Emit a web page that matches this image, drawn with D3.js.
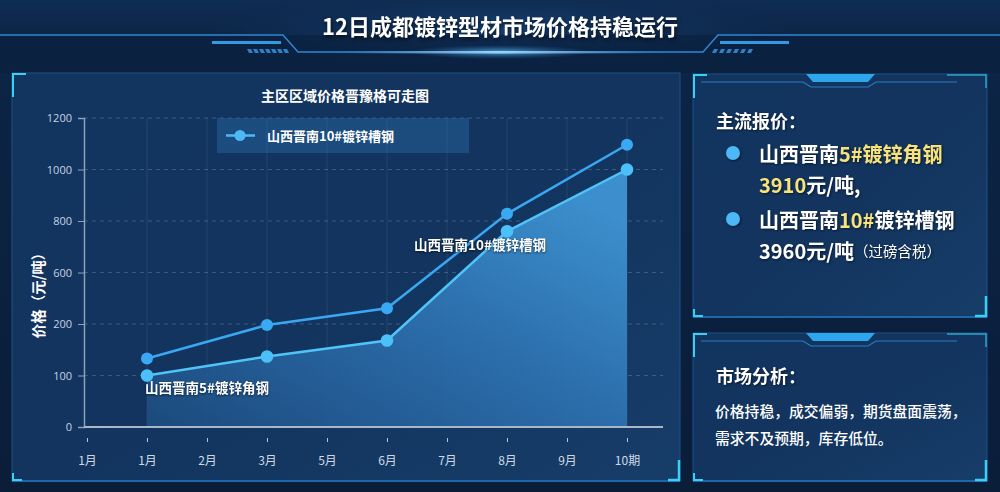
<!DOCTYPE html>
<html><head><meta charset="utf-8">
<script src="https://cdn.jsdelivr.net/npm/d3@7/dist/d3.min.js"></script>
<style>
html,body{margin:0;padding:0;background:#0a1d3a;}
svg{display:block;font-family:"Noto Sans CJK SC","Noto Sans",sans-serif;}
</style></head>
<body><svg id="c" width="1000" height="492"></svg>
<script>
// ---- data ----
const title = "12日成都镀锌型材市场价格持稳运行";
const chartTitle = "主区区域价格晋豫格可走图";
const categories = ["1月","1月","2月","3月","5月","6月","7月","8月","9月","10期"];
const yTickValues = [0,100,200,600,800,1000,1200];
const pointIndex = [1,3,5,7,9];
const series10Name = "山西晋南10#镀锌槽钢";
const series10 = [133,198,322,828,1096];
const series5Name = "山西晋南5#镀锌角钢";
const series5 = [100,137,168,760,1000];
const yAxisLabel = "价格（元/吨）";
const priceTitle = "主流报价：";
const analysisTitle = "市场分析：";
const analysisLines = ["价格持稳，成交偏弱，期货盘面震荡，","需求不及预期，库存低位。"];

const svg = d3.select("#c");
const defs = svg.append("defs");

// background gradients
const bg = defs.append("linearGradient").attr("id","bg").attr("x1",0).attr("y1",0).attr("x2",0).attr("y2",1);
bg.append("stop").attr("offset",0).attr("stop-color","#0f2c52");
bg.append("stop").attr("offset",0.08).attr("stop-color","#0c2546");
bg.append("stop").attr("offset",1).attr("stop-color","#0a1d39");
svg.append("rect").attr("width",1000).attr("height",492).attr("fill","url(#bg)");

const hg = defs.append("radialGradient").attr("id","hglow").attr("cx",0.5).attr("cy",0.5).attr("r",0.5);
hg.append("stop").attr("offset",0).attr("stop-color","#1d5390").attr("stop-opacity",0.8);
hg.append("stop").attr("offset",1).attr("stop-color","#0c2546").attr("stop-opacity",0);
svg.append("ellipse").attr("cx",500).attr("cy",30).attr("rx",330).attr("ry",40).attr("fill","url(#hglow)");

// header decoration
const hdr = svg.append("g");
hdr.append("rect").attr("x",0).attr("y",35).attr("width",1000).attr("height",38).attr("fill","#0a1f3e").attr("opacity",0.6);
hdr.append("path").attr("d","M0,35H283L298,52H703L718,35H1000").attr("fill","none").attr("stroke","#2f86d0").attr("stroke-width",1.5);
const cg = defs.append("linearGradient").attr("id","cg").attr("x1",0).attr("x2",1);
cg.append("stop").attr("offset",0).attr("stop-color","#2f86d0").attr("stop-opacity",0);
cg.append("stop").attr("offset",0.5).attr("stop-color","#e8f6ff");
cg.append("stop").attr("offset",1).attr("stop-color","#2f86d0").attr("stop-opacity",0);
hdr.append("rect").attr("x",330).attr("y",51).attr("width",340).attr("height",2.5).attr("fill","url(#cg)");
const glow = defs.append("radialGradient").attr("id","glow");
glow.append("stop").attr("offset",0).attr("stop-color","#6cc8ff").attr("stop-opacity",0.7);
glow.append("stop").attr("offset",1).attr("stop-color","#2f86d0").attr("stop-opacity",0);
hdr.append("ellipse").attr("cx",500).attr("cy",52).attr("rx",90).attr("ry",7).attr("fill","url(#glow)");
hdr.append("rect").attr("x",212).attr("y",41).attr("width",69).attr("height",3).attr("fill","#3598e2");
hdr.append("rect").attr("x",720).attr("y",41).attr("width",69).attr("height",3).attr("fill","#3598e2");
for(let i=0;i<7;i++){const x=247+i*6;hdr.append("path").attr("d",`M${x},49h4l2,4h-4z`).attr("fill","#2f80c8");}
for(let i=0;i<6;i++){const x=712+i*7;hdr.append("path").attr("d",`M${x+2},49h4l-2,4h-4z`).attr("fill","#2f80c8");}
svg.append("text").attr("x",500).attr("y",25).attr("text-anchor","middle").attr("dominant-baseline","central")
  .attr("fill","#fff").attr("font-size",22).attr("font-weight","bold")
  .style("filter","drop-shadow(1px 2px 2px rgba(0,0,0,0.7))").text(title);

// panels
const pg = defs.append("linearGradient").attr("id","pg").attr("x1",0).attr("y1",0).attr("x2",1).attr("y2",1);
pg.append("stop").attr("offset",0).attr("stop-color","#123560");
pg.append("stop").attr("offset",0.5).attr("stop-color","#12345e");
pg.append("stop").attr("offset",1).attr("stop-color","#163d68");
function panel(x,y,w,h,tab,trCorner){
  const g=svg.append("g");
  g.append("rect").attr("x",x).attr("y",y).attr("width",w).attr("height",h).attr("fill","url(#pg)").attr("stroke","#1d5287").attr("stroke-width",1);
  g.append("line").attr("x1",x).attr("x2",x+w).attr("y1",y+h).attr("y2",y+h).attr("stroke","#1f67a8").attr("stroke-width",2);
  const c="#3ad0f5";
  g.append("path").attr("d",`M${x+1},${y+24}V${y+1}H${x+14}`).attr("fill","none").attr("stroke",c).attr("stroke-width",2);
  if(trCorner) g.append("path").attr("d",`M${x+w-1},${y+14}V${y+1}H${x+w-40}`).attr("fill","none").attr("stroke",c).attr("stroke-width",1.5).attr("opacity",0.7);
  g.append("path").attr("d",`M${x+w-1},${y+h-21}V${y+h-1}H${x+w-12}`).attr("fill","none").attr("stroke",c).attr("stroke-width",2.5);
  g.append("path").attr("d",`M${x+1},${y+h-8}V${y+h-1}H${x+10}`).attr("fill","none").attr("stroke",c).attr("stroke-width",2);
  if(tab){
    const cx=x+w/2;
    g.append("path").attr("d",`M${x+8},${y+8}H${cx-37}L${cx-29},${y+13}H${cx+28}L${cx+36},${y+8}H${x+w-30}`).attr("fill","none").attr("stroke","#2a7cc0").attr("stroke-width",1.2);
    g.append("path").attr("d",`M${cx-34},${y}H${cx+35}L${cx+28},${y+8}H${cx-27}Z`).attr("fill","#2ea6ee");
  }
}
panel(12,73,668,408,false,false);
panel(693,74,294,243,true,true);
panel(693,333,294,148,true,true);

// ---- chart ----
const x0=87, x1=627, xAxisEnd=663, yTop=118, yBottom=427, axisX=84;
const x = d3.scalePoint().domain(d3.range(categories.length)).range([x0,x1]);
const step=(yBottom-yTop)/(yTickValues.length-1);
const y = d3.scaleLinear().domain(yTickValues).range(yTickValues.map((d,i)=>yBottom-i*step));
const plot = svg.append("g");

// grid
plot.append("g").selectAll("line").data(yTickValues.slice(1)).join("line")
  .attr("x1",axisX).attr("x2",xAxisEnd).attr("y1",d=>y(d)).attr("y2",d=>y(d))
  .attr("stroke","#ffffff").attr("stroke-opacity",0.18).attr("stroke-dasharray","4,4");
plot.append("g").selectAll("line").data(d3.range(1,categories.length)).join("line")
  .attr("x1",d=>x(d)).attr("x2",d=>x(d)).attr("y1",yTop).attr("y2",yBottom)
  .attr("stroke","#ffffff").attr("stroke-opacity",0.08);

// area
const ag = defs.append("linearGradient").attr("id","ag").attr("x1",0).attr("y1",1).attr("x2",0.9).attr("y2",0.1);
ag.append("stop").attr("offset",0).attr("stop-color","#1c4b7e");
ag.append("stop").attr("offset",0.55).attr("stop-color","#2c6fae");
ag.append("stop").attr("offset",1).attr("stop-color","#3e94d2");
const pts5 = series5.map((v,i)=>({i:pointIndex[i],v}));
const pts10 = series10.map((v,i)=>({i:pointIndex[i],v}));
plot.append("path").datum(pts5)
  .attr("d",d3.area().x(d=>x(d.i)).y0(y(0)).y1(d=>y(d.v)))
  .attr("fill","url(#ag)").attr("opacity",0.95);

// y axis
const yAxis = d3.axisLeft(y).tickValues(yTickValues).tickFormat(d=>String(d)).tickSize(6).tickPadding(6);
const ya = plot.append("g").attr("transform",`translate(${axisX},0)`).call(yAxis);
ya.select(".domain").attr("stroke","#8ea1bb").attr("stroke-width",1.5);
ya.selectAll(".tick line").attr("stroke","#8ea1bb");
ya.selectAll("text").attr("fill","#c6d2e2").attr("font-size",11).attr("font-family","'Open Sans','Noto Sans',sans-serif");

// x axis
const xAxis = d3.axisBottom(x).tickFormat(i=>categories[i]).tickSize(4).tickPadding(14);
const xa = plot.append("g").attr("transform",`translate(0,${yBottom+11})`).call(xAxis);
xa.select(".domain").remove();
xa.selectAll(".tick line").attr("stroke","#b8c6d6");
xa.selectAll("text").attr("fill","#d0dae6").attr("font-size",12).attr("font-family","'Noto Sans CJK SC',sans-serif");
plot.append("line").attr("x1",axisX).attr("x2",xAxisEnd).attr("y1",yBottom).attr("y2",yBottom).attr("stroke","#a9b7c9").attr("stroke-width",2);

// lines
const line = d3.line().x(d=>x(d.i)).y(d=>y(d.v));
plot.append("path").datum(pts10).attr("d",line).attr("fill","none").attr("stroke","#3aa7f2").attr("stroke-width",2.5);
plot.append("path").datum(pts5).attr("d",line).attr("fill","none").attr("stroke","#4fc4f8").attr("stroke-width",2.5);
plot.append("g").selectAll("circle").data(pts10).join("circle").attr("cx",d=>x(d.i)).attr("cy",d=>y(d.v)).attr("r",6).attr("fill","#3aa9f3");
plot.append("g").selectAll("circle").data(pts5).join("circle").attr("cx",d=>x(d.i)).attr("cy",d=>y(d.v)).attr("r",6.3).attr("fill","#4cc0f8");

// labels
const lab = {fill:"#fff","font-size":13.5,"font-weight":"bold"};
function applyAttrs(sel,o){for(const k in o) sel.attr(k,o[k]); return sel;}
applyAttrs(plot.append("text"),lab).attr("x",x(pts5[0].i)-2).attr("y",y(pts5[0].v)+11).attr("dominant-baseline","central")
  .style("filter","drop-shadow(0 1px 1px rgba(0,0,0,0.6))").text(series5Name);
applyAttrs(plot.append("text"),lab).attr("x",x(pts5[3].i)-27).attr("y",y(pts5[3].v)+13).attr("text-anchor","middle").attr("dominant-baseline","central")
  .style("filter","drop-shadow(0 1px 1px rgba(0,0,0,0.6))").text(series10Name);

// chart title
svg.append("text").attr("x",345).attr("y",95).attr("text-anchor","middle").attr("dominant-baseline","central")
  .attr("fill","#fff").attr("font-size",14).attr("font-weight","bold").text(chartTitle);

// y label
svg.append("text").attr("transform","translate(37,292) rotate(-90)").attr("text-anchor","middle").attr("dominant-baseline","central")
  .attr("fill","#fff").attr("font-size",14.5).attr("font-weight","bold").text(yAxisLabel);

// legend
const lg = svg.append("g");
lg.append("rect").attr("x",217).attr("y",118).attr("width",252).attr("height",35).attr("fill","#2a6aa6").attr("opacity",0.45);
lg.append("line").attr("x1",226).attr("x2",255).attr("y1",135.5).attr("y2",135.5).attr("stroke","#4cb8f6").attr("stroke-width",2.5);
lg.append("circle").attr("cx",240).attr("cy",135.5).attr("r",5.5).attr("fill","#4cb8f6");
lg.append("text").attr("x",267).attr("y",135.5).attr("dominant-baseline","central").attr("fill","#fff").attr("font-size",13).attr("font-weight","bold").text(series10Name);

// right top panel
const rp = svg.append("g").attr("font-weight","bold").style("filter","drop-shadow(1px 1px 1px rgba(0,0,0,0.5))");
rp.append("text").attr("x",716).attr("y",120).attr("dominant-baseline","central").attr("fill","#fff").attr("font-size",18).text(priceTitle);
rp.append("circle").attr("cx",733).attr("cy",153).attr("r",7).attr("fill","#4cb8f6");
rp.append("circle").attr("cx",733).attr("cy",219).attr("r",7).attr("fill","#4cb8f6");
const Y="#f7e27c";
function rich(xp,yp,parts){
  const t=rp.append("text").attr("x",xp).attr("y",yp).attr("dominant-baseline","central");
  parts.forEach(p=>t.append("tspan").attr("fill",p[1]).attr("font-size",p[2]||20).attr("font-weight",p[3]||"bold").text(p[0]));
}
rich(759,153,[["山西晋南","#fff"],["5#镀锌角钢",Y]]);
rich(759,184,[["3910",Y],["元/吨,","#fff"]]);
rich(759,219,[["山西晋南","#fff"],["10#",Y],["镀锌槽钢","#fff"]]);
rich(759,250,[["3960元/吨","#fff"],["（过磅含税）","#fff",14.5,"normal"]]);

// right bottom panel
rp.append("text").attr("x",716).attr("y",375).attr("dominant-baseline","central").attr("fill","#fff").attr("font-size",18).text(analysisTitle);
svg.append("g").selectAll("text").data(analysisLines).join("text")
  .attr("x",715).attr("y",(d,i)=>410+i*27).attr("dominant-baseline","central")
  .attr("fill","#fff").attr("font-size",14.8).attr("font-weight",500).text(d=>d);
</script></body></html>
